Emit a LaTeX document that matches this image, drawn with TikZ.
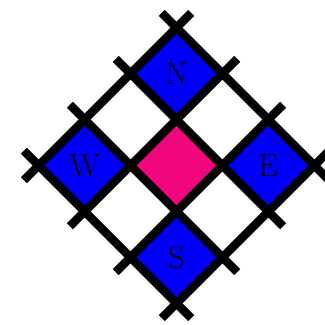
\documentclass[tikz,border=0pt]{standalone}
\usetikzlibrary{positioning}
\definecolor{cellblue}{HTML}{0000F8}
\definecolor{cellpink}{HTML}{F2067E}

\begin{document}
\begin{tikzpicture}[x=1pt,y=1pt,
  gridline/.style={line width=8.5pt,black},
  bluecell/.style={fill=cellblue},
  pinkcell/.style={fill=cellpink},
  lbl/.style={font=\fontsize{32}{34}\selectfont,inner sep=0pt}]

  \useasboundingbox (0,0) rectangle (325,-325);

  \begin{scope}[shift={(176.5,-165.5)},rotate=45,x=65pt,y=65pt]
    % coloured cells
    \fill[pinkcell] (-0.5,-0.5) rectangle (0.5,0.5);
    \fill[bluecell] (0.5,0.5) rectangle (1.5,1.5);
    \fill[bluecell] (-1.5,0.5) rectangle (-0.5,1.5);
    \fill[bluecell] (0.5,-1.5) rectangle (1.5,-0.5);
    \fill[bluecell] (-1.5,-1.5) rectangle (-0.5,-0.5);

    % grid lines, running a little past the border
    \foreach \i in {-1.5,-0.5,0.5,1.5} {
      \draw[gridline] (\i,-1.82) -- (\i,1.82);
      \draw[gridline] (-1.82,\i) -- (1.82,\i);
    }

    \node[lbl] (n) at (1,1) {N};
    \node[lbl] (w) at (-1,1) {W};
    \node[lbl] (e) at (1,-1) {E};
    \node[lbl] (s) at (-1,-1) {S};
  \end{scope}

\end{tikzpicture}
\end{document}
